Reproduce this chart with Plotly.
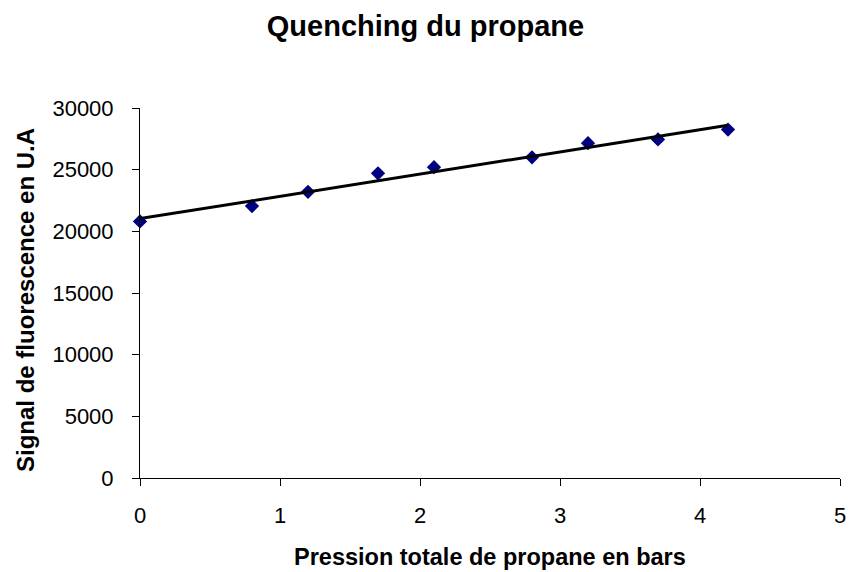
import numpy as np
import plotly.graph_objects as go

pression = [0, 0.8, 1.2, 1.7, 2.1, 2.8, 3.2, 3.7, 4.2]
signal = [20800, 22050, 23200, 24700, 25200, 26000, 27150, 27450, 28250]

x_ticks = [0, 1, 2, 3, 4, 5]
y_ticks = [0, 5000, 10000, 15000, 20000, 25000, 30000]

title_text = "Quenching du propane"
x_title = "Pression totale de propane en bars"
y_title = "Signal de fluorescence en U.A"

# linear trend line computed from the data
slope, intercept = np.polyfit(pression, signal, 1)
trend_x = [min(pression), max(pression)]
trend_y = [slope * v + intercept for v in trend_x]

font_family = "Liberation Sans, Arial, sans-serif"

# the page body has an 8px default margin, so the figure is sized to fit
W, H = 849, 564
ML, MR, MT, MB = 132, 11, 100, 94
plot_w = W - ML - MR
plot_h = H - MT - MB

fig = go.Figure()
fig.add_trace(go.Scatter(
    x=pression, y=signal, mode="markers",
    marker=dict(symbol="diamond", color="#000080", size=11,
                line=dict(width=0)),
    showlegend=False, cliponaxis=False,
))
fig.add_trace(go.Scatter(
    x=trend_x, y=trend_y, mode="lines",
    line=dict(color="black", width=3),
    showlegend=False,
))

fig.update_layout(
    width=W, height=H,
    paper_bgcolor="white", plot_bgcolor="white",
    margin=dict(l=ML, r=MR, t=MT, b=MB),
    font=dict(family=font_family, color="black", size=22),
    title=dict(text="<b>" + title_text + "</b>", x=417.5 / W, xanchor="center",
               y=1 - 18 / H, yanchor="middle", xref="container",
               yref="container",
               font=dict(size=29, family=font_family)),
    xaxis=dict(
        range=[0, 5], tickvals=x_ticks, ticktext=[str(v) for v in x_ticks],
        showgrid=False, zeroline=False, showline=True, linecolor="black",
        linewidth=1, ticks="outside", ticklen=7, tickcolor="black",
        ticklabelstandoff=11, tickfont=dict(size=22),
    ),
    yaxis=dict(
        range=[0, 30000], tickvals=y_ticks, ticktext=[str(v) for v in y_ticks],
        showgrid=False, zeroline=False, showline=True, linecolor="black",
        linewidth=1, ticks="outside", ticklen=7, tickcolor="black",
        ticklabelstandoff=14, tickfont=dict(size=22),
    ),
    annotations=[
        dict(text="<b>" + x_title + "</b>", xref="paper", yref="paper",
             x=0.5, y=-(549 - (MT + plot_h)) / plot_h,
             xanchor="center", yanchor="middle", showarrow=False,
             font=dict(size=23.5, family=font_family)),
        dict(text="<b>" + y_title + "</b>", xref="paper", yref="paper",
             x=(16 - ML) / plot_w, y=(MT + plot_h - 292) / plot_h,
             xanchor="center", yanchor="middle", textangle=-90,
             showarrow=False, font=dict(size=24, family=font_family)),
    ],
)

fig.write_html("out.html")
